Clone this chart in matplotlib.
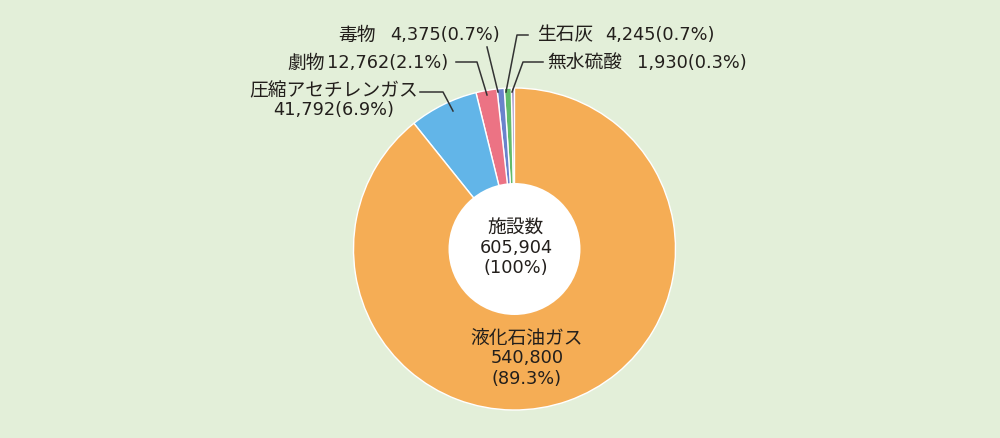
import matplotlib
matplotlib.use('Agg')
import matplotlib.pyplot as plt
from matplotlib.patches import Circle

plt.rcParams['font.family'] = ['Noto Sans CJK JP', 'DejaVu Sans']

# 施設数の内訳
names = ['無水硫酸', '生石灰', '毒物', '劇物', '圧縮アセチレンガス', '液化石油ガス']
values = [1930, 4245, 4375, 12762, 41792, 540800]
shares = ['0.3%', '0.7%', '0.7%', '2.1%', '6.9%', '89.3%']
colors = ['#9a86c2', '#62bb6a', '#6a83cc', '#ec7384', '#62b5e8', '#f5ad55']
total = sum(values)

bg = '#e3efd9'
tc = '#231f1c'
jp = dict(fontsize=13.5, color=tc, family=['Noto Sans CJK JP', 'DejaVu Sans'])
nm = dict(fontsize=12.8, color=tc, family=['DejaVu Sans', 'Noto Sans CJK JP'])

fig = plt.figure(figsize=(10, 4.38), dpi=100, facecolor=bg)
ax = fig.add_axes([0, 0, 1, 1])
ax.set_facecolor(bg)

cx, cy, R, r = 514.5, 249, 161, 66
ax.pie(values, colors=colors, startangle=-90, counterclock=False,
       radius=R, center=(cx, cy),
       wedgeprops=dict(edgecolor='white', linewidth=1.0))
ax.add_patch(Circle((cx, cy), r, facecolor='white', edgecolor='none', zorder=5))
ax.set_xlim(0, 1000)
ax.set_ylim(438, 0)
ax.set_aspect('equal')
ax.axis('off')

def num(i):
    return f'{values[i]:,}({shares[i]})'

# 中央
ax.text(516, 228, '施設数', ha='center', va='center', zorder=6, **jp)
ax.text(516, 248, f'{total:,}', ha='center', va='center', zorder=6, **nm)
ax.text(516, 268, '(100%)', ha='center', va='center', zorder=6, **nm)

# 液化石油ガス
ax.text(527, 338, names[5], ha='center', va='center', **jp)
ax.text(527, 358, f'{values[5]:,}', ha='center', va='center', **nm)
ax.text(527, 379, f'({shares[5]})', ha='center', va='center', **nm)

# 圧縮アセチレンガス
ax.text(334, 91, names[4], ha='center', va='center', **jp)
ax.text(334, 110, num(4), ha='center', va='center', **nm)

# 劇物・毒物
ax.text(287, 63, names[3], ha='left', va='center', **jp)
ax.text(448, 63, num(3), ha='right', va='center', **nm)
ax.text(338, 35, names[2], ha='left', va='center', **jp)
ax.text(500, 35, num(2), ha='right', va='center', **nm)

# 生石灰・無水硫酸
ax.text(537, 35, names[1], ha='left', va='center', **jp)
ax.text(605, 35, num(1), ha='left', va='center', **nm)
ax.text(547, 63, names[0], ha='left', va='center', **jp)
ax.text(637, 63, num(0), ha='left', va='center', **nm)

# 引き出し線
leaders = [
    [(420, 92), (443, 92), (453, 111)],
    [(456, 62), (477, 62), (487, 95)],
    [(487, 47), (498, 92)],
    [(528, 35), (517, 35), (506, 92)],
    [(543, 62), (523, 62), (512, 92)],
]
for pts in leaders:
    xs = [p[0] for p in pts]
    ys = [p[1] for p in pts]
    ax.plot(xs, ys, color='#333333', linewidth=1.1, zorder=7)

fig.savefig('out.png', dpi=100, facecolor=bg)
